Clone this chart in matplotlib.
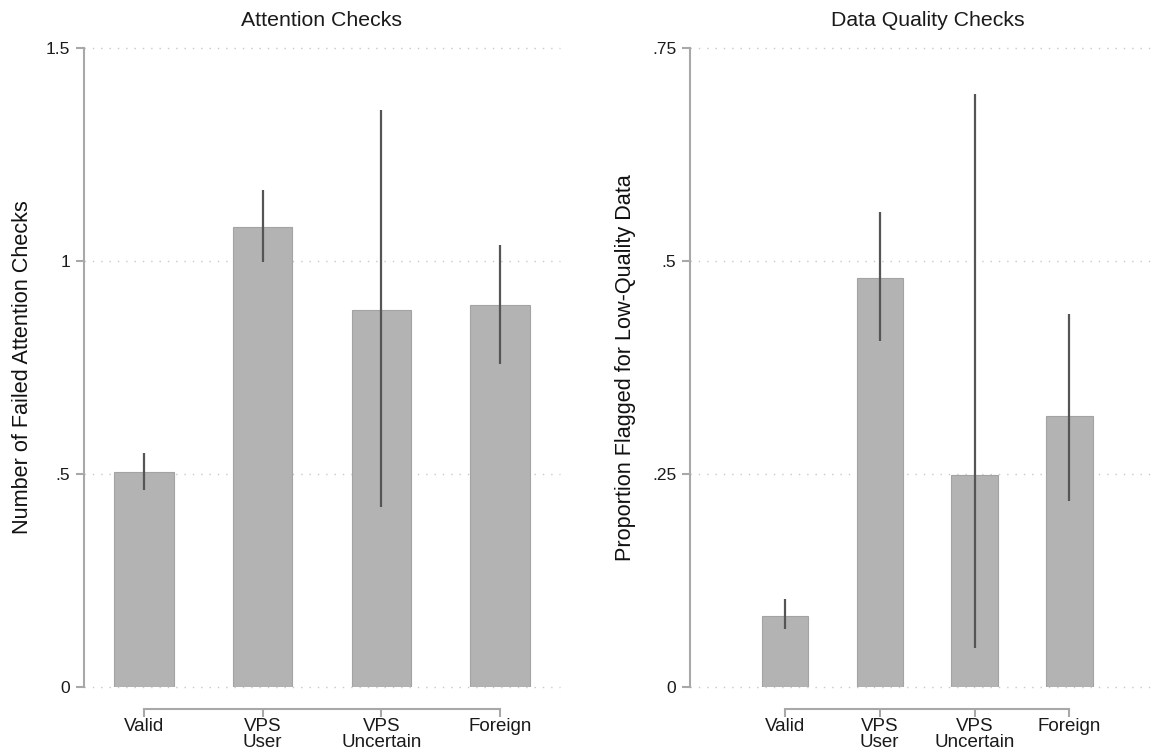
import numpy as np
import matplotlib
matplotlib.use("Agg")
import matplotlib.pyplot as plt

plt.rcParams['font.family'] = ['Liberation Sans', 'DejaVu Sans']

groups = ["Valid", "VPS\nUser", "VPS\nUncertain", "Foreign"]

# attention checks: mean, lower ci, upper ci
att_mean = [0.505, 1.080, 0.885, 0.897]
att_lo = [0.462, 0.998, 0.423, 0.758]
att_hi = [0.549, 1.167, 1.354, 1.038]

# data quality checks
dq_mean = [0.083, 0.480, 0.249, 0.318]
dq_lo = [0.068, 0.406, 0.046, 0.218]
dq_hi = [0.103, 0.557, 0.696, 0.438]

att_ticks = [0, 0.5, 1, 1.5]
att_ticklabels = ["0", ".5", "1", "1.5"]
dq_ticks = [0, 0.25, 0.5, 0.75]
dq_ticklabels = ["0", ".25", ".5", ".75"]

fig = plt.figure(figsize=(11.56, 7.51), dpi=100)
ax1 = fig.add_axes([0.0727, 0.0852, 0.4117, 0.8508])
ax2 = fig.add_axes([0.5969, 0.0852, 0.4021, 0.8508])

bar_col = "#b3b3b3"
err_col = "#555555"
spine_col = "#a8a8a8"


def panel(ax, mean, lo, hi, ticks, ticklabels, xlim, width, ylabel, labx):
    x = np.arange(1, len(mean) + 1)
    # spines first: moving a spine resets the ticks
    for s in ["top", "right"]:
        ax.spines[s].set_visible(False)
    ax.spines["left"].set_color(spine_col)
    ax.spines["left"].set_linewidth(1.5)
    ax.spines["bottom"].set_color(spine_col)
    ax.spines["bottom"].set_linewidth(1.5)
    ax.spines["bottom"].set_position(("outward", 16))
    ax.spines["bottom"].set_bounds(1, len(mean))

    ax.bar(x, mean, width=width, color=bar_col, edgecolor="#a3a3a3",
           linewidth=0.8, zorder=2)
    ax.vlines(x, lo, hi, color=err_col, linewidth=1.6, zorder=3)
    ax.set_xlim(*xlim)
    ax.set_ylim(ticks[0], ticks[-1])
    ax.set_yticks(ticks)
    ax.set_yticklabels(ticklabels, fontsize=12.5)
    ax.set_xticks(x)
    ax.set_xticklabels(groups, fontsize=13.5, linespacing=0.9)
    for t in ticks:
        ax.axhline(t, color="#c8c8c8", linestyle=(0, (1, 5)), linewidth=1.0,
                   zorder=1, clip_on=False)
    ax.tick_params(axis="both", color=spine_col, width=1.5, length=6,
                   labelcolor="#1a1a1a")
    ax.tick_params(axis="y", pad=4)
    ax.tick_params(axis="x", pad=0.5)
    ax.set_ylabel(ylabel, fontsize=15.6, color="#111111")
    ax.yaxis.set_label_coords(labx, 0.5)


panel(ax1, att_mean, att_lo, att_hi, att_ticks, att_ticklabels, (0.494, 4.505),
      0.5, "Number of Failed Attention Checks", -0.108)
panel(ax2, dq_mean, dq_lo, dq_hi, dq_ticks, dq_ticklabels, (0.0, 4.9),
      0.49, "Proportion Flagged for Low-Quality Data", -0.116)

fig.text(0.278, 0.973, "Attention Checks", ha="center", va="center", fontsize=15.3,
         color="#1a1a1a")
fig.text(0.8023, 0.973, "Data Quality Checks", ha="center", va="center", fontsize=15.3,
         color="#1a1a1a")

fig.savefig("out.png", dpi=100, facecolor="white")
